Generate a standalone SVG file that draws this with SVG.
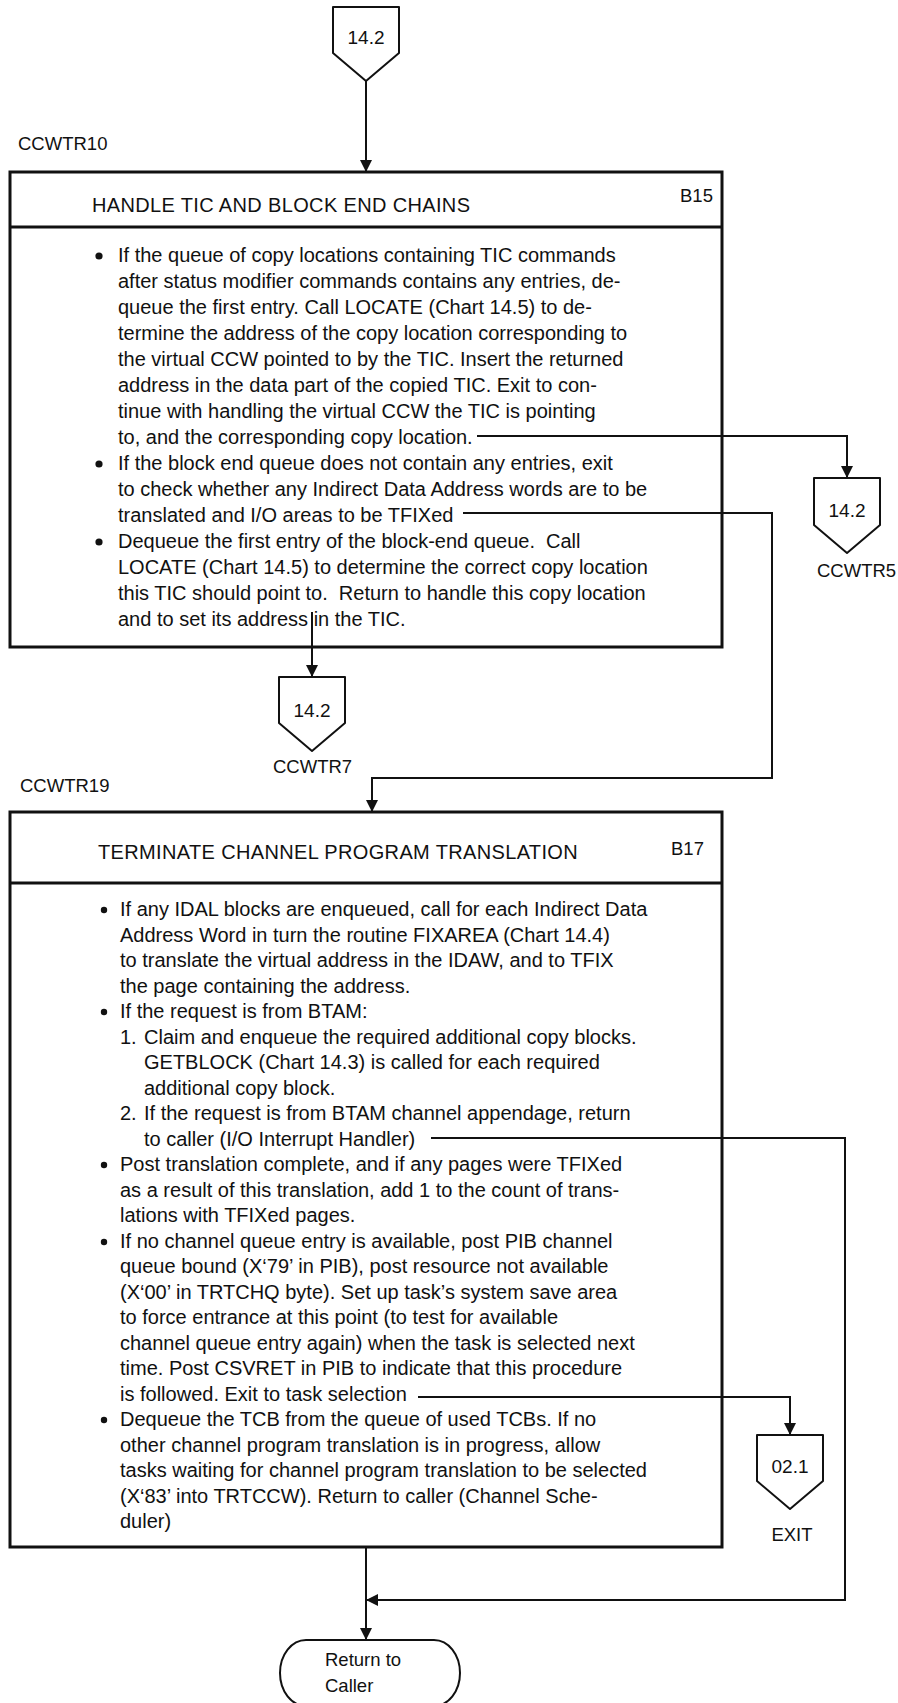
<svg xmlns="http://www.w3.org/2000/svg" width="898" height="1703" viewBox="0 0 898 1703">
  <defs>
    <marker id="arrow" viewBox="0 0 12 20" refX="12" refY="10" markerWidth="12" markerHeight="20" markerUnits="userSpaceOnUse" orient="auto">
      <path d="M0,4 L12,10 L0,16 Z" fill="#111"/>
    </marker>
    <style>
      .box { fill: none; stroke: #111; stroke-width: 3; }
      .rule { stroke: #111; stroke-width: 3; }
      .conn { fill: none; stroke: #111; stroke-width: 2; }
      .offpage { fill: #fff; stroke: #111; stroke-width: 2; stroke-linejoin: round; }
      .term { fill: #fff; stroke: #111; stroke-width: 2; }
      text { font-family: "Liberation Sans", Arial, sans-serif; fill: #111; white-space: pre; }
      .body { font-size: 20px; }
      .head { font-size: 20px; letter-spacing: 0.35px; }
      .tag { font-size: 18.5px; }
      .num { font-size: 19px; text-anchor: middle; }
      .bullet { fill: #111; }
    </style>
  </defs>
  <rect x="0" y="0" width="898" height="1703" fill="#fff"/>

  <!-- connectors -->
  <g id="connectors">
    <path class="conn" d="M366,81 V172" marker-end="url(#arrow)"/>
    <path class="conn" d="M477,436 H847 V478" marker-end="url(#arrow)"/>
    <path class="conn" d="M463,513 H772 V778 H372 V812" marker-end="url(#arrow)"/>
    <path class="conn" d="M312,612 V677" marker-end="url(#arrow)"/>
    <path class="conn" d="M431,1138 H845 V1600 H366" marker-end="url(#arrow)"/>
    <path class="conn" d="M418,1397 H790 V1435" marker-end="url(#arrow)"/>
    <path class="conn" d="M366,1547 V1640" marker-end="url(#arrow)"/>
  </g>

  <!-- entry connector 14.2 -->
  <g id="in-14-2">
    <path class="offpage" d="M333,7 H399 V53 L366,81 L333,53 Z"/>
    <text class="num" x="366" y="43.5">14.2</text>
  </g>

  <!-- B15: handle TIC and block end chains -->
  <g id="b15">
    <text class="tag" x="18" y="150">CCWTR10</text>
    <rect class="box" x="10" y="172" width="712" height="475"/>
    <line class="rule" x1="10" y1="227" x2="722" y2="227"/>
    <text class="head" x="92" y="212">HANDLE TIC AND BLOCK END CHAINS</text>
    <text class="tag" x="680" y="202">B15</text>
    <circle class="bullet" cx="99" cy="256" r="3.6"/>
    <circle class="bullet" cx="99" cy="464" r="3.6"/>
    <circle class="bullet" cx="99" cy="542" r="3.6"/>
    <g class="body" xml:space="preserve">
      <text x="118" y="262">If the queue of copy locations containing TIC commands</text>
      <text x="118" y="288">after status modifier commands contains any entries, de-</text>
      <text x="118" y="314">queue the first entry. Call LOCATE (Chart 14.5) to de-</text>
      <text x="118" y="340">termine the address of the copy location corresponding to</text>
      <text x="118" y="366">the virtual CCW pointed to by the TIC. Insert the returned</text>
      <text x="118" y="392">address in the data part of the copied TIC. Exit to con-</text>
      <text x="118" y="418">tinue with handling the virtual CCW the TIC is pointing</text>
      <text x="118" y="444">to, and the corresponding copy location.</text>
      <text x="118" y="470">If the block end queue does not contain any entries, exit</text>
      <text x="118" y="496">to check whether any Indirect Data Address words are to be</text>
      <text x="118" y="522">translated and I/O areas to be TFIXed</text>
      <text x="118" y="548">Dequeue the first entry of the block-end queue.  Call</text>
      <text x="118" y="574">LOCATE (Chart 14.5) to determine the correct copy location</text>
      <text x="118" y="600">this TIC should point to.  Return to handle this copy location</text>
      <text x="118" y="626">and to set its address in the TIC.</text>
    </g>
  </g>

  <!-- exit connector CCWTR5 -->
  <g id="out-ccwtr5">
    <path class="offpage" d="M814,478 H880 V525 L847,553 L814,525 Z"/>
    <text class="num" x="847" y="517">14.2</text>
    <text class="tag" x="817" y="577">CCWTR5</text>
  </g>

  <!-- exit connector CCWTR7 -->
  <g id="out-ccwtr7">
    <path class="offpage" d="M279,677 H345 V723 L312,751 L279,723 Z"/>
    <text class="num" x="312" y="717">14.2</text>
    <text class="tag" x="273" y="773">CCWTR7</text>
  </g>

  <!-- B17: terminate channel program translation -->
  <g id="b17">
    <text class="tag" x="20" y="792">CCWTR19</text>
    <rect class="box" x="10" y="812" width="712" height="735"/>
    <line class="rule" x1="10" y1="883" x2="722" y2="883"/>
    <text class="head" x="98" y="859">TERMINATE CHANNEL PROGRAM TRANSLATION</text>
    <text class="tag" x="671" y="855">B17</text>
    <circle class="bullet" cx="104" cy="910" r="3.2"/>
    <circle class="bullet" cx="104" cy="1012" r="3.2"/>
    <circle class="bullet" cx="104" cy="1165" r="3.2"/>
    <circle class="bullet" cx="104" cy="1242" r="3.2"/>
    <circle class="bullet" cx="104" cy="1420" r="3.2"/>
    <g class="body">
      <text x="120" y="916">If any IDAL blocks are enqueued, call for each Indirect Data</text>
      <text x="120" y="941.5">Address Word in turn the routine FIXAREA (Chart 14.4)</text>
      <text x="120" y="967">to translate the virtual address in the IDAW, and to TFIX</text>
      <text x="120" y="992.5">the page containing the address.</text>
      <text x="120" y="1018">If the request is from BTAM:</text>
      <text x="120" y="1043.5">1.</text>
      <text x="144" y="1043.5">Claim and enqueue the required additional copy blocks.</text>
      <text x="144" y="1069">GETBLOCK (Chart 14.3) is called for each required</text>
      <text x="144" y="1094.5">additional copy block.</text>
      <text x="120" y="1120">2.</text>
      <text x="144" y="1120">If the request is from BTAM channel appendage, return</text>
      <text x="144" y="1145.5">to caller (I/O Interrupt Handler)</text>
      <text x="120" y="1171">Post translation complete, and if any pages were TFIXed</text>
      <text x="120" y="1196.5">as a result of this translation, add 1 to the count of trans-</text>
      <text x="120" y="1222">lations with TFIXed pages.</text>
      <text x="120" y="1247.5">If no channel queue entry is available, post PIB channel</text>
      <text x="120" y="1273">queue bound (X‘79’ in PIB), post resource not available</text>
      <text x="120" y="1298.5">(X‘00’ in TRTCHQ byte). Set up task’s system save area</text>
      <text x="120" y="1324">to force entrance at this point (to test for available</text>
      <text x="120" y="1349.5">channel queue entry again) when the task is selected next</text>
      <text x="120" y="1375">time. Post CSVRET in PIB to indicate that this procedure</text>
      <text x="120" y="1400.5">is followed. Exit to task selection</text>
      <text x="120" y="1426">Dequeue the TCB from the queue of used TCBs. If no</text>
      <text x="120" y="1451.5">other channel program translation is in progress, allow</text>
      <text x="120" y="1477">tasks waiting for channel program translation to be selected</text>
      <text x="120" y="1502.5">(X‘83’ into TRTCCW). Return to caller (Channel Sche-</text>
      <text x="120" y="1528">duler)</text>
    </g>
  </g>

  <!-- exit connector 02.1 -->
  <g id="out-exit">
    <path class="offpage" d="M757,1435 H823 V1481 L790,1509 L757,1481 Z"/>
    <text class="num" x="790" y="1473">02.1</text>
    <text class="tag" x="792" y="1541" text-anchor="middle">EXIT</text>
  </g>

  <!-- terminal: return to caller -->
  <g id="return-to-caller">
    <rect class="term" x="280" y="1640" width="180" height="66" rx="26" ry="33"/>
    <text class="tag" x="325" y="1666">Return to</text>
    <text class="tag" x="325" y="1692">Caller</text>
  </g>
</svg>
